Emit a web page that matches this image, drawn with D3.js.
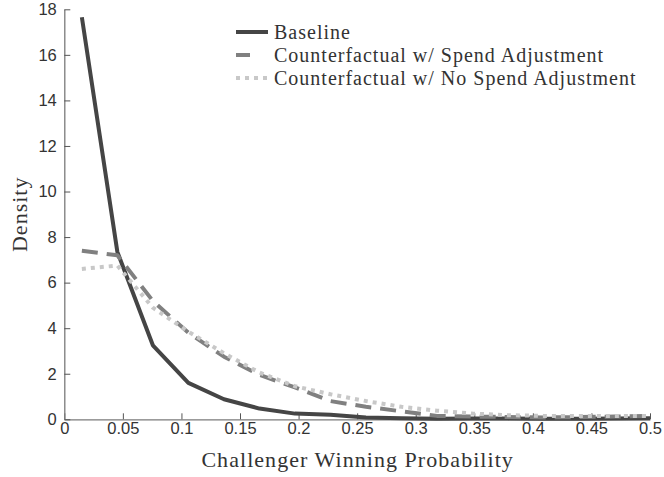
<!DOCTYPE html>
<html>
<head>
<meta charset="utf-8">
<script src="https://cdn.jsdelivr.net/npm/d3@7"></script>
<style>
  body { margin: 0; background: #fff; }
  svg { display: block; }
</style>
</head>
<body>
<div class="chart"></div>
<script>
// bin centres (probability)
const xs = [0.015, 0.0453, 0.0756, 0.1059, 0.1363, 0.1666, 0.1969, 0.2272, 0.2575,
            0.2878, 0.3181, 0.3484, 0.3788, 0.4091, 0.4394, 0.4697, 0.5];

// densities
const baseline    = [17.65, 7.35, 3.25, 1.6, 0.88, 0.47, 0.25, 0.2, 0.08,
                     0.05, 0.02, 0.04, 0.03, 0.02, 0.02, 0.03, 0.05];
const spendAdj    = [7.4, 7.2, 5.2, 3.8, 2.75, 1.95, 1.4, 0.8, 0.55,
                     0.35, 0.15, 0.12, 0.1, 0.08, 0.1, 0.12, 0.15];
const noSpendAdj  = [6.6, 6.75, 4.9, 3.85, 2.9, 2.05, 1.45, 1.1, 0.8,
                     0.55, 0.38, 0.25, 0.18, 0.15, 0.15, 0.15, 0.15];

const seriesNames = ["Baseline", "Counterfactual w/ Spend Adjustment", "Counterfactual w/ No Spend Adjustment"];

const xTicks = [0, 0.05, 0.1, 0.15, 0.2, 0.25, 0.3, 0.35, 0.4, 0.45, 0.5];
const yTicks = [0, 2, 4, 6, 8, 10, 12, 14, 16, 18];

const w = 664, h = 477;
const padL = 64.3, padR = 650, padT = 9.3, padB = 419.3;
const serif = "'Liberation Serif', 'Times New Roman', serif";

const xScale = d3.scaleLinear().domain([0, 0.5]).range([padL, padR]);
const yScale = d3.scaleLinear().domain([0, 18]).range([padB, padT]);

const svg = d3.select(".chart").append("svg")
  .attr("width", w)
  .attr("height", h);

/* series styles */
const styles = [
  { data: baseline,   color: "#454545", dash: null },
  { data: spendAdj,   color: "#808080", dash: "16,9" },
  { data: noSpendAdj, color: "#c8c8c8", dash: "4,5" }
];

/* axes */
const xAxis = d3.axisBottom(xScale)
  .tickValues(xTicks)
  .tickFormat(d3.format("~g"))
  .tickSizeInner(-6)
  .tickSizeOuter(0)
  .tickPadding(3);

const yAxis = d3.axisLeft(yScale)
  .tickValues(yTicks)
  .tickFormat(d3.format("d"))
  .tickSizeInner(-6)
  .tickSizeOuter(0)
  .tickPadding(7.5);

const gx = svg.append("g")
  .attr("transform", "translate(0," + padB + ")")
  .call(xAxis);

const gy = svg.append("g")
  .attr("transform", "translate(" + padL + ",0)")
  .call(yAxis);

[gx, gy].forEach(g => {
  g.select(".domain").attr("stroke", "#7a7a7a").attr("stroke-width", 1.3);
  g.selectAll(".tick line").attr("stroke", "#555").attr("stroke-width", 1);
  g.selectAll(".tick text")
    .attr("fill", "#333")
    .style("font-family", "'Liberation Sans', Arial, sans-serif")
    .style("font-size", "16.5px");
});

/* lines */
const line = d3.line()
  .x((d, i) => xScale(xs[i]))
  .y(d => yScale(d));

styles.forEach(s => {
  svg.append("path")
    .datum(s.data)
    .attr("d", line)
    .attr("fill", "none")
    .attr("stroke", s.color)
    .attr("stroke-width", 4)
    .attr("stroke-linejoin", "round")
    .attr("stroke-dasharray", s.dash);
});

/* legend */
const legend = svg.append("g").attr("transform", "translate(236,32)");
const sampleLen = [32, 14, 34];
styles.forEach((s, i) => {
  const row = legend.append("g").attr("transform", "translate(0," + (i * 23) + ")");
  row.append("line")
    .attr("x1", 0).attr("x2", sampleLen[i])
    .attr("stroke", s.color)
    .attr("stroke-width", 4)
    .attr("stroke-dasharray", s.dash);
  row.append("text")
    .attr("x", 38)
    .attr("dy", "0.35em")
    .attr("fill", "#333")
    .style("font-family", serif)
    .style("font-size", "20px")
    .style("letter-spacing", "1px")
    .text(seriesNames[i]);
});

/* axis titles */
svg.append("text")
  .attr("x", (padL + padR) / 2 + 0.5)
  .attr("y", 467)
  .attr("text-anchor", "middle")
  .attr("fill", "#333")
  .style("font-family", serif)
  .style("font-size", "22px")
  .style("letter-spacing", "1.05px")
  .text("Challenger Winning Probability");

svg.append("text")
  .attr("transform", "translate(27," + ((padT + padB) / 2) + ") rotate(-90)")
  .attr("text-anchor", "middle")
  .attr("fill", "#333")
  .style("font-family", serif)
  .style("font-size", "22px")
  .style("letter-spacing", "1px")
  .text("Density");
</script>
</body>
</html>
